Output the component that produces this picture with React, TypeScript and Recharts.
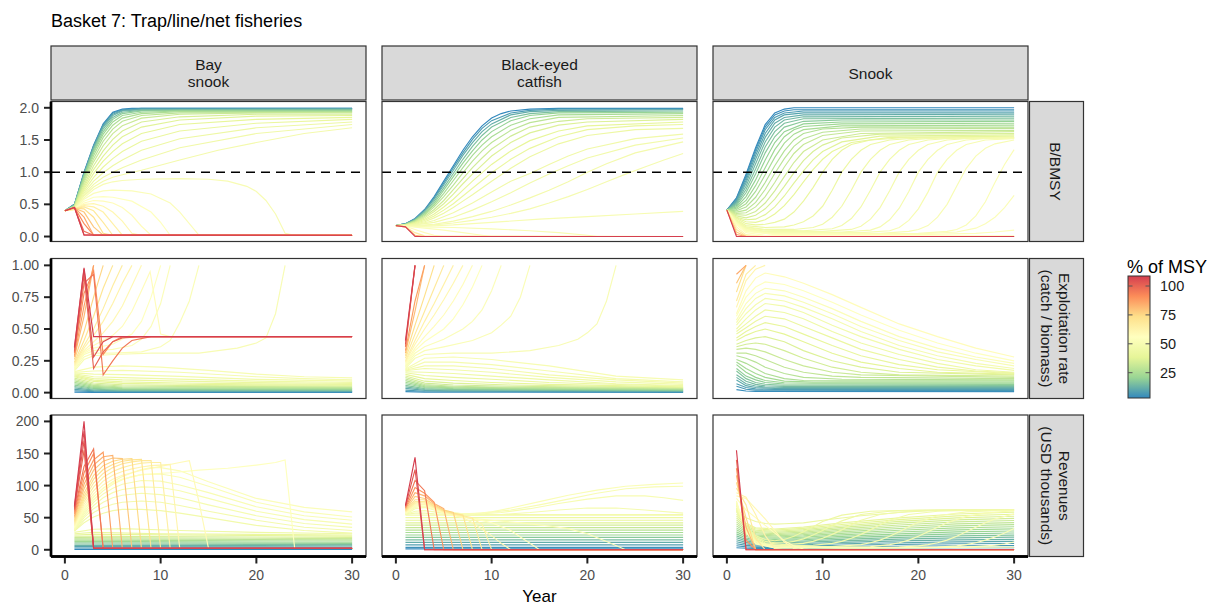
import React from 'react';
import { LineChart, Line, XAxis, YAxis, ReferenceLine } from 'recharts';

type P = [number, number];
type S = { m: number; p: P[] };

const FONT = "'Liberation Sans', Arial, Helvetica, sans-serif";
const title = 'Basket 7: Trap/line/net fisheries';
const speciesLabels = [['Bay', 'snook'], ['Black-eyed', 'catfish'], ['Snook']];
const rowLabels = [['B/BMSY'], ['Exploitation rate', '(catch / biomass)'], ['Revenues', '(USD thousands)']];
const xTitle = 'Year';
const legendTitle = '% of MSY';
const yearTicks = [0, 10, 20, 30];
const bTicks = [0, 0.5, 1, 1.5, 2];
const eTicks = [0, 0.25, 0.5, 0.75, 1];
const rTicks = [0, 50, 100, 150, 200];
const legendTicks = [25, 50, 75, 100];
const bmsyRef = 1;

// ---------- Row 1: B/BMSY ----------
const bayB: S[] = [
  { m: 1, p: [[0,.4],[1,.5],[2,1.0],[3,1.42],[4,1.75],[5,1.93],[6,1.98],[7,1.99],[30,1.99]] },
  { m: 4, p: [[0,.4],[1,.5],[2,.99],[3,1.41],[4,1.74],[5,1.92],[6,1.97],[8,1.99],[30,1.99]] },
  { m: 7, p: [[0,.4],[1,.5],[2,.98],[3,1.4],[4,1.72],[5,1.9],[6,1.96],[8,1.98],[30,1.98]] },
  { m: 10, p: [[0,.4],[1,.49],[2,.97],[3,1.38],[4,1.7],[5,1.88],[6,1.95],[8,1.97],[30,1.98]] },
  { m: 13, p: [[0,.4],[1,.49],[2,.96],[3,1.36],[4,1.67],[5,1.85],[6,1.93],[8,1.96],[30,1.97]] },
  { m: 16, p: [[0,.4],[1,.48],[2,.94],[3,1.33],[4,1.63],[5,1.82],[6,1.91],[8,1.95],[12,1.96],[30,1.96]] },
  { m: 19, p: [[0,.4],[1,.48],[2,.92],[3,1.3],[4,1.59],[5,1.78],[6,1.88],[8,1.93],[12,1.95],[30,1.95]] },
  { m: 22, p: [[0,.4],[1,.47],[2,.9],[3,1.26],[4,1.54],[5,1.73],[6,1.84],[8,1.91],[12,1.94],[30,1.94]] },
  { m: 25, p: [[0,.4],[1,.47],[2,.87],[3,1.21],[4,1.48],[5,1.67],[6,1.79],[8,1.88],[12,1.92],[30,1.93]] },
  { m: 28, p: [[0,.4],[1,.46],[2,.84],[3,1.16],[4,1.41],[5,1.6],[6,1.72],[8,1.84],[12,1.9],[20,1.92],[30,1.92]] },
  { m: 31, p: [[0,.4],[1,.46],[2,.8],[3,1.1],[4,1.33],[5,1.51],[6,1.64],[8,1.78],[12,1.86],[20,1.9],[30,1.9]] },
  { m: 33, p: [[0,.4],[1,.45],[2,.77],[3,1.04],[4,1.25],[5,1.42],[6,1.55],[8,1.7],[12,1.81],[20,1.87],[30,1.88]] },
  { m: 35, p: [[0,.4],[1,.45],[2,.74],[3,.98],[4,1.17],[5,1.32],[6,1.44],[8,1.6],[12,1.74],[20,1.82],[30,1.85]] },
  { m: 37, p: [[0,.4],[1,.44],[2,.71],[3,.92],[4,1.08],[5,1.21],[6,1.32],[8,1.48],[12,1.64],[20,1.76],[30,1.82]] },
  { m: 39, p: [[0,.4],[1,.44],[2,.68],[3,.86],[4,.99],[5,1.1],[6,1.19],[8,1.34],[12,1.52],[20,1.69],[30,1.78]] },
  { m: 41, p: [[0,.4],[1,.43],[2,.65],[3,.81],[4,.92],[5,1.0],[6,1.07],[8,1.19],[12,1.38],[20,1.6],[30,1.74]] },
  { m: 43, p: [[0,.4],[1,.43],[2,.63],[3,.77],[4,.86],[5,.92],[6,.96],[8,1.03],[12,1.19],[16,1.34],[20,1.46],[25,1.6],[30,1.69]] },
  { m: 46, p: [[0,.4],[1,.42],[2,.6],[3,.73],[4,.81],[5,.85],[6,.87],[8,.89],[12,.9],[15,.89],[17,.86],[19,.78],[20,.7],[21,.56],[22,.35],[23,.05],[24,.02],[30,.02]] },
  { m: 48, p: [[0,.4],[1,.42],[2,.58],[3,.67],[4,.71],[5,.72],[7,.71],[9,.66],[11,.52],[12,.38],[13,.2],[14,.02],[30,.02]] },
  { m: 50, p: [[0,.4],[1,.42],[2,.55],[3,.61],[4,.62],[5,.61],[7,.55],[9,.38],[10,.22],[11,.02],[30,.02]] },
  { m: 52, p: [[0,.4],[1,.42],[2,.52],[3,.56],[4,.55],[5,.52],[6,.45],[7,.33],[8,.16],[9,.02],[30,.02]] },
  { m: 55, p: [[0,.4],[1,.42],[2,.5],[3,.51],[4,.47],[5,.38],[6,.24],[7,.05],[8,.02],[30,.02]] },
  { m: 58, p: [[0,.4],[1,.43],[2,.48],[3,.46],[4,.38],[5,.2],[6,.02],[30,.02]] },
  { m: 62, p: [[0,.4],[1,.43],[2,.46],[3,.4],[4,.22],[5,.02],[30,.02]] },
  { m: 67, p: [[0,.4],[1,.44],[2,.43],[3,.3],[4,.05],[5,.02],[30,.02]] },
  { m: 72, p: [[0,.4],[1,.44],[2,.38],[3,.15],[4,.02],[30,.02]] },
  { m: 78, p: [[0,.4],[1,.45],[2,.3],[3,.02],[30,.02]] },
  { m: 84, p: [[0,.4],[1,.45],[2,.2],[3,.02],[30,.02]] },
  { m: 90, p: [[0,.4],[1,.45],[2,.08],[3,.02],[30,.02]] },
  { m: 95, p: [[0,.4],[1,.45],[2,.03],[30,.02]] },
  { m: 100, p: [[0,.4],[1,.45],[2,.02],[30,.02]] },
];

const catB: S[] = [
  { m: 1, p: [[0,.17],[1,.2],[2,.28],[3,.42],[4,.62],[5,.86],[6,1.1],[7,1.34],[8,1.55],[9,1.72],[10,1.84],[11,1.91],[12,1.95],[14,1.98],[17,1.99],[30,1.99]] },
  { m: 5, p: [[0,.17],[1,.2],[2,.27],[3,.41],[4,.6],[5,.83],[6,1.07],[7,1.3],[8,1.51],[9,1.68],[10,1.8],[12,1.92],[14,1.96],[17,1.98],[30,1.98]] },
  { m: 9, p: [[0,.17],[1,.2],[2,.27],[3,.4],[4,.58],[5,.8],[6,1.03],[7,1.26],[8,1.46],[9,1.63],[10,1.75],[12,1.89],[14,1.94],[17,1.96],[30,1.97]] },
  { m: 13, p: [[0,.17],[1,.19],[2,.26],[3,.38],[4,.55],[5,.76],[6,.98],[7,1.2],[8,1.4],[9,1.57],[10,1.7],[12,1.85],[14,1.91],[17,1.94],[30,1.95]] },
  { m: 17, p: [[0,.17],[1,.19],[2,.25],[3,.36],[4,.52],[5,.72],[6,.93],[7,1.14],[8,1.33],[9,1.5],[10,1.63],[12,1.8],[14,1.88],[17,1.92],[30,1.93]] },
  { m: 21, p: [[0,.17],[1,.19],[2,.25],[3,.35],[4,.49],[5,.67],[6,.87],[7,1.07],[8,1.26],[9,1.42],[10,1.55],[12,1.73],[14,1.83],[17,1.89],[30,1.91]] },
  { m: 25, p: [[0,.17],[1,.18],[2,.24],[3,.33],[4,.46],[5,.62],[6,.8],[7,.99],[8,1.17],[9,1.33],[10,1.46],[12,1.65],[14,1.77],[17,1.85],[30,1.88]] },
  { m: 29, p: [[0,.17],[1,.18],[2,.23],[3,.31],[4,.42],[5,.56],[6,.73],[7,.9],[8,1.07],[9,1.22],[10,1.36],[12,1.56],[14,1.7],[17,1.79],[20,1.83],[30,1.85]] },
  { m: 32, p: [[0,.17],[1,.18],[2,.22],[3,.29],[4,.39],[5,.51],[6,.66],[7,.82],[8,.97],[9,1.11],[10,1.25],[12,1.46],[14,1.61],[17,1.73],[20,1.78],[30,1.82]] },
  { m: 35, p: [[0,.17],[1,.18],[2,.21],[3,.27],[4,.35],[5,.46],[6,.58],[7,.72],[8,.86],[10,1.12],[12,1.33],[14,1.49],[17,1.64],[20,1.72],[30,1.78]] },
  { m: 37, p: [[0,.17],[1,.17],[2,.2],[3,.25],[4,.32],[5,.41],[6,.51],[7,.63],[8,.75],[10,.99],[12,1.2],[14,1.37],[17,1.55],[20,1.66],[25,1.72],[30,1.74]] },
  { m: 39, p: [[0,.17],[1,.17],[2,.19],[3,.23],[4,.29],[5,.36],[6,.45],[7,.55],[8,.65],[10,.86],[12,1.06],[14,1.24],[17,1.44],[20,1.57],[25,1.66],[30,1.68]] },
  { m: 41, p: [[0,.17],[1,.17],[2,.18],[4,.25],[6,.37],[8,.52],[10,.69],[12,.86],[14,.98],[16,1.12],[18,1.25],[20,1.36],[25,1.52],[30,1.59]] },
  { m: 42, p: [[0,.17],[1,.17],[2,.18],[4,.22],[6,.3],[8,.41],[10,.54],[12,.68],[14,.83],[16,.97],[18,1.1],[20,1.22],[25,1.42],[30,1.53]] },
  { m: 43, p: [[0,.17],[1,.16],[2,.17],[4,.19],[6,.24],[8,.31],[10,.39],[12,.49],[14,.6],[16,.72],[18,.85],[20,1.0],[22,1.13],[25,1.3],[30,1.47]] },
  { m: 44, p: [[0,.17],[1,.16],[2,.16],[4,.18],[6,.21],[8,.25],[10,.3],[12,.36],[14,.43],[16,.52],[18,.62],[20,.73],[22,.85],[24,.97],[26,1.08],[28,1.19],[30,1.29]] },
  { m: 45, p: [[0,.17],[1,.16],[3,.16],[6,.18],[10,.22],[15,.27],[20,.31],[25,.35],[30,.39]] },
  { m: 46, p: [[0,.17],[1,.16],[3,.15],[6,.14],[10,.12],[14,.09],[17,.06],[20,.02],[21,0],[30,0]] },
  { m: 48, p: [[0,.17],[1,.16],[3,.13],[5,.1],[7,.06],[9,.02],[10,0],[30,0]] },
  { m: 52, p: [[0,.17],[1,.16],[2,.11],[3,.06],[4,.02],[5,0],[30,0]] },
  { m: 60, p: [[0,.17],[1,.15],[2,.06],[3,.01],[30,0]] },
  { m: 75, p: [[0,.17],[1,.15],[2,.02],[3,0],[30,0]] },
  { m: 100, p: [[0,.17],[1,.15],[2,0],[30,0]] },
];

const snookB: S[] = [
  { m: 1, p: [[0,.41],[1,.6],[2,.97],[3,1.38],[4,1.74],[5,1.92],[6,1.98],[7,2.0],[30,2.0]] },
  { m: 3, p: [[0,.41],[1,.59],[2,.94],[3,1.35],[4,1.7],[5,1.89],[6,1.95],[7,1.97],[30,1.97]] },
  { m: 5, p: [[0,.41],[1,.57],[2,.91],[3,1.31],[4,1.66],[5,1.85],[6,1.92],[8,1.95],[30,1.95]] },
  { m: 7, p: [[0,.41],[1,.56],[2,.87],[3,1.26],[4,1.6],[5,1.81],[6,1.89],[8,1.92],[30,1.92]] },
  { m: 9, p: [[0,.41],[1,.54],[2,.83],[3,1.2],[4,1.54],[5,1.76],[6,1.85],[8,1.89],[30,1.9]] },
  { m: 11, p: [[0,.41],[1,.52],[2,.78],[3,1.13],[4,1.47],[5,1.7],[6,1.81],[8,1.86],[30,1.87]] },
  { m: 13, p: [[0,.41],[1,.5],[2,.73],[3,1.05],[4,1.39],[5,1.63],[6,1.76],[8,1.83],[30,1.84]] },
  { m: 15, p: [[0,.41],[1,.48],[2,.68],[3,.97],[4,1.3],[5,1.55],[6,1.7],[8,1.79],[12,1.81],[30,1.81]] },
  { m: 17, p: [[0,.41],[1,.46],[2,.62],[3,.88],[4,1.19],[5,1.46],[6,1.63],[8,1.75],[12,1.78],[30,1.79]] },
  { m: 19, p: [[0,.41],[1,.44],[2,.56],[3,.79],[4,1.07],[5,1.35],[6,1.55],[7,1.66],[8,1.71],[12,1.75],[30,1.76]] },
  { m: 21, p: [[0,.41],[1,.42],[2,.51],[3,.7],[4,.96],[5,1.23],[6,1.45],[7,1.59],[8,1.66],[12,1.72],[30,1.73]] },
  { m: 23, p: [[0,.41],[1,.4],[2,.46],[3,.61],[4,.84],[5,1.1],[6,1.33],[7,1.5],[8,1.6],[10,1.67],[14,1.7],[30,1.7]] },
  { m: 25, p: [[0,.41],[1,.38],[2,.41],[3,.53],[4,.73],[5,.98],[6,1.21],[7,1.4],[8,1.52],[10,1.62],[14,1.67],[30,1.68]] },
  { m: 27, p: [[0,.41],[1,.36],[2,.37],[3,.46],[4,.62],[5,.84],[6,1.08],[7,1.29],[8,1.43],[10,1.57],[14,1.64],[30,1.65]] },
  { m: 29, p: [[0,.41],[1,.34],[2,.33],[3,.39],[4,.52],[5,.71],[6,.93],[7,1.15],[8,1.32],[10,1.5],[14,1.6],[30,1.63]] },
  { m: 31, p: [[0,.41],[1,.32],[2,.29],[3,.33],[4,.43],[5,.58],[6,.78],[7,.99],[8,1.18],[9,1.32],[10,1.42],[12,1.53],[16,1.59],[30,1.6]] },
  { m: 33, p: [[0,.41],[1,.3],[2,.26],[3,.27],[4,.34],[5,.46],[6,.63],[7,.83],[8,1.02],[9,1.19],[10,1.32],[12,1.47],[16,1.56],[30,1.58]] },
  { m: 35, p: [[0,.41],[1,.29],[2,.23],[3,.22],[4,.26],[5,.35],[6,.48],[7,.65],[8,.85],[9,1.04],[10,1.2],[11,1.32],[13,1.46],[17,1.54],[30,1.56]] },
  { m: 37, p: [[0,.41],[1,.28],[2,.2],[3,.18],[4,.19],[5,.22],[6,.27],[7,.38],[8,.55],[9,.76],[10,1.0],[11,1.2],[12,1.34],[13,1.43],[15,1.5],[18,1.53],[30,1.54]] },
  { m: 39, p: [[0,.41],[1,.26],[2,.17],[4,.14],[6,.15],[7,.18],[8,.23],[9,.32],[10,.47],[11,.72],[12,1.0],[13,1.2],[14,1.34],[15,1.43],[17,1.5],[20,1.53],[30,1.53]] },
  { m: 41, p: [[0,.41],[1,.25],[2,.15],[4,.11],[7,.11],[9,.14],[10,.19],[11,.3],[12,.47],[13,.72],[14,1.0],[15,1.2],[16,1.34],[17,1.43],[19,1.5],[22,1.53],[30,1.53]] },
  { m: 42, p: [[0,.41],[1,.24],[2,.14],[4,.1],[8,.09],[11,.12],[12,.17],[13,.28],[14,.46],[15,.72],[16,1.0],[17,1.2],[18,1.34],[19,1.43],[21,1.5],[24,1.53],[30,1.53]] },
  { m: 43, p: [[0,.41],[1,.23],[2,.13],[4,.08],[10,.08],[13,.11],[14,.16],[15,.27],[16,.45],[17,.71],[18,1.0],[19,1.2],[20,1.34],[21,1.43],[23,1.5],[26,1.53],[30,1.53]] },
  { m: 44, p: [[0,.41],[1,.22],[2,.12],[4,.07],[12,.07],[15,.1],[16,.15],[17,.26],[18,.44],[19,.7],[20,1.0],[21,1.2],[22,1.34],[23,1.43],[25,1.5],[28,1.53],[30,1.53]] },
  { m: 45, p: [[0,.41],[1,.22],[2,.11],[4,.06],[14,.06],[17,.09],[18,.14],[19,.25],[20,.43],[21,.69],[22,1.0],[23,1.2],[24,1.34],[25,1.43],[27,1.5],[30,1.52]] },
  { m: 46, p: [[0,.41],[1,.21],[2,.1],[5,.05],[16,.05],[19,.08],[20,.11],[21,.17],[22,.3],[23,.5],[24,.78],[25,1.06],[26,1.25],[27,1.37],[28,1.44],[30,1.5]] },
  { m: 47, p: [[0,.41],[1,.21],[2,.1],[5,.04],[20,.05],[23,.08],[24,.11],[25,.18],[26,.32],[27,.54],[28,.84],[29,1.12],[30,1.35]] },
  { m: 48, p: [[0,.41],[1,.2],[2,.09],[5,.04],[20,.04],[24,.07],[26,.13],[27,.2],[28,.3],[29,.45],[30,.64]] },
  { m: 49, p: [[0,.41],[1,.2],[2,.08],[5,.03],[20,.03],[26,.05],[28,.07],[30,.1]] },
  { m: 51, p: [[0,.41],[1,.18],[2,.06],[4,.02],[10,.01],[30,.01]] },
  { m: 55, p: [[0,.41],[1,.15],[2,.03],[4,0],[30,0]] },
  { m: 62, p: [[0,.41],[1,.11],[2,.01],[3,0],[30,0]] },
  { m: 70, p: [[0,.41],[1,.07],[2,0],[30,0]] },
  { m: 80, p: [[0,.41],[1,.03],[2,0],[30,0]] },
  { m: 100, p: [[0,.41],[1,0],[30,0]] },
];

// ---------- Row 2: exploitation rate ----------
const bayE: S[] = [
  { m: 1, p: [[1,.004],[3,.002],[30,.002]] },
  { m: 4, p: [[1,.015],[3,.008],[6,.006],[30,.006]] },
  { m: 7, p: [[1,.026],[3,.014],[6,.01],[30,.01]] },
  { m: 10, p: [[1,.037],[3,.02],[6,.015],[30,.014]] },
  { m: 13, p: [[1,.048],[3,.027],[6,.02],[30,.019]] },
  { m: 16, p: [[1,.059],[3,.034],[6,.025],[30,.024]] },
  { m: 19, p: [[1,.07],[3,.041],[6,.031],[30,.029]] },
  { m: 22, p: [[1,.081],[3,.049],[6,.037],[30,.034]] },
  { m: 25, p: [[1,.092],[3,.057],[6,.044],[30,.04]] },
  { m: 28, p: [[1,.103],[3,.066],[6,.052],[12,.048],[30,.046]] },
  { m: 31, p: [[1,.114],[3,.076],[6,.061],[12,.056],[30,.052]] },
  { m: 34, p: [[1,.125],[3,.088],[6,.073],[12,.066],[20,.061],[30,.058]] },
  { m: 36, p: [[1,.132],[3,.098],[6,.085],[12,.076],[20,.069],[30,.064]] },
  { m: 38, p: [[1,.14],[3,.11],[6,.1],[12,.09],[20,.079],[30,.072]] },
  { m: 40, p: [[1,.147],[3,.125],[6,.118],[12,.106],[20,.09],[30,.08]] },
  { m: 42, p: [[1,.155],[3,.145],[6,.142],[12,.128],[20,.104],[30,.09]] },
  { m: 44, p: [[1,.16],[3,.17],[6,.175],[12,.16],[20,.125],[25,.11],[30,.1]] },
  { m: 45, p: [[1,.165],[3,.2],[6,.21],[10,.2],[15,.175],[20,.145],[25,.125],[30,.116]] },
  { m: 46, p: [[1,.17],[2,.26],[3,.29],[5,.3],[9,.31],[14,.31],[18,.35],[20,.39],[21,.43],[22,.62],[23,1.0]] },
  { m: 47, p: [[1,.18],[2,.28],[3,.31],[5,.31],[8,.32],[10,.36],[11,.41],[12,.55],[13,.72],[14,1.0]] },
  { m: 48, p: [[1,.19],[2,.3],[3,.33],[5,.34],[7,.37],[8,.42],[9,.52],[10,.7],[11,1.0]] },
  { m: 50, p: [[1,.19],[2,.31],[3,.35],[5,.38],[7,.46],[8,.56],[9,.75],[10,1.0]] },
  { m: 52, p: [[1,.2],[2,.32],[3,.37],[5,.45],[6,.52],[7,.64],[8,.8],[8.9,.95],[10,.46],[11,.44],[30,.44]] },
  { m: 54, p: [[1,.21],[2,.33],[3,.4],[4,.47],[5,.56],[6,.68],[7,.84],[8,1.0]] },
  { m: 57, p: [[1,.22],[2,.35],[3,.45],[4,.56],[5,.7],[6,.86],[7,1.0]] },
  { m: 60, p: [[1,.23],[2,.37],[3,.5],[4,.66],[5,.84],[6,1.0]] },
  { m: 64, p: [[1,.24],[2,.41],[3,.6],[4,.82],[5,1.0]] },
  { m: 69, p: [[1,.26],[2,.48],[3,.75],[4,1.0]] },
  { m: 75, p: [[1,.28],[2,.6],[3,1.0]] },
  { m: 80, p: [[1,.29],[2,.68],[3,1.0]] },
  { m: 84, p: [[1,.31],[2,.78],[3,.96],[4,.3],[5,.4],[6,.44],[30,.44]] },
  { m: 88, p: [[1,.32],[2,.86],[3,.93],[4,.14],[5,.25],[6,.35],[7,.41],[9,.44],[30,.44]] },
  { m: 92, p: [[1,.33],[2,.92],[3,.19],[4,.32],[5,.4],[6,.43],[8,.44],[30,.44]] },
  { m: 96, p: [[1,.35],[2,.97],[3,.28],[4,.4],[5,.44],[30,.44]] },
  { m: 100, p: [[1,.36],[2,.98],[3,.44],[30,.44]] },
];

const catE: S[] = [
  { m: 2, p: [[1,.008],[3,.004],[30,.002]] },
  { m: 5, p: [[1,.02],[3,.011],[30,.006]] },
  { m: 8, p: [[1,.033],[3,.018],[6,.014],[30,.01]] },
  { m: 11, p: [[1,.045],[3,.025],[6,.02],[30,.014]] },
  { m: 14, p: [[1,.057],[3,.032],[6,.025],[30,.018]] },
  { m: 17, p: [[1,.07],[3,.04],[6,.031],[12,.027],[30,.022]] },
  { m: 20, p: [[1,.082],[3,.047],[6,.037],[12,.032],[30,.026]] },
  { m: 23, p: [[1,.094],[3,.055],[6,.043],[12,.037],[30,.03]] },
  { m: 26, p: [[1,.107],[3,.064],[6,.05],[12,.042],[30,.033]] },
  { m: 29, p: [[1,.119],[3,.075],[6,.06],[12,.05],[30,.037]] },
  { m: 32, p: [[1,.131],[3,.09],[6,.075],[12,.06],[30,.04]] },
  { m: 35, p: [[1,.143],[3,.11],[6,.095],[10,.08],[16,.065],[30,.045]] },
  { m: 38, p: [[1,.156],[3,.135],[6,.12],[10,.105],[16,.08],[30,.05]] },
  { m: 40, p: [[1,.164],[3,.16],[6,.15],[10,.13],[16,.1],[23,.07],[30,.055]] },
  { m: 42, p: [[1,.172],[3,.19],[6,.18],[10,.16],[16,.12],[23,.085],[30,.065]] },
  { m: 43, p: [[1,.176],[3,.21],[6,.21],[10,.19],[16,.14],[23,.1],[30,.075]] },
  { m: 44, p: [[1,.18],[3,.24],[6,.24],[10,.22],[16,.17],[23,.11],[30,.085]] },
  { m: 45, p: [[1,.185],[3,.27],[6,.28],[10,.26],[16,.21],[23,.13],[30,.1]] },
  { m: 46, p: [[1,.19],[2,.27],[3,.3],[6,.31],[10,.31],[14,.33],[17,.37],[19,.42],[20,.47],[21,.54],[22,.72],[23,1.0]] },
  { m: 47, p: [[1,.2],[2,.29],[3,.33],[5,.36],[8,.41],[10,.47],[11,.53],[12,.6],[13,.75],[14,1.0]] },
  { m: 48, p: [[1,.21],[2,.31],[3,.36],[5,.42],[7,.5],[8,.56],[9,.65],[10,.8],[11,1.0]] },
  { m: 50, p: [[1,.22],[2,.33],[3,.4],[5,.5],[6,.58],[7,.69],[8,.83],[9,1.0]] },
  { m: 52, p: [[1,.23],[2,.35],[3,.44],[4,.52],[5,.61],[6,.72],[7,.85],[8,1.0]] },
  { m: 55, p: [[1,.24],[2,.38],[3,.5],[4,.61],[5,.73],[6,.86],[7,1.0]] },
  { m: 58, p: [[1,.25],[2,.41],[3,.56],[4,.7],[5,.85],[6,1.0]] },
  { m: 62, p: [[1,.27],[2,.46],[3,.64],[4,.82],[5,1.0]] },
  { m: 67, p: [[1,.29],[2,.53],[3,.76],[4,1.0]] },
  { m: 74, p: [[1,.31],[2,.64],[3,1.0]] },
  { m: 80, p: [[1,.33],[2,.72],[3,1.0]] },
  { m: 88, p: [[1,.36],[2,1.0]] },
  { m: 94, p: [[1,.38],[2,1.0]] },
  { m: 100, p: [[1,.41],[2,1.0]] },
];

const snookE: S[] = [
  { m: 2, p: [[1,.024],[2,.013],[3,.01],[30,.008]] },
  { m: 4, p: [[1,.05],[2,.027],[3,.02],[30,.016]] },
  { m: 6, p: [[1,.07],[2,.04],[3,.03],[5,.025],[30,.024]] },
  { m: 8, p: [[1,.1],[2,.055],[3,.04],[5,.033],[30,.032]] },
  { m: 10, p: [[1,.12],[2,.07],[3,.052],[4,.044],[6,.041],[30,.04]] },
  { m: 12, p: [[1,.14],[2,.09],[3,.065],[4,.054],[6,.049],[30,.048]] },
  { m: 14, p: [[1,.17],[2,.11],[3,.08],[4,.066],[6,.058],[30,.057]] },
  { m: 16, p: [[1,.19],[2,.13],[3,.1],[4,.08],[6,.068],[30,.065]] },
  { m: 18, p: [[1,.22],[2,.16],[3,.12],[4,.095],[6,.078],[9,.074],[30,.074]] },
  { m: 20, p: [[1,.24],[2,.19],[3,.15],[4,.12],[6,.09],[9,.083],[30,.083]] },
  { m: 22, p: [[1,.26],[2,.23],[3,.19],[4,.15],[6,.11],[8,.095],[12,.092],[30,.092]] },
  { m: 24, p: [[1,.29],[2,.27],[3,.24],[4,.2],[6,.15],[8,.12],[12,.105],[30,.1]] },
  { m: 26, p: [[1,.31],[2,.31],[3,.29],[4,.26],[6,.2],[8,.16],[11,.13],[14,.12],[30,.11]] },
  { m: 28, p: [[1,.34],[2,.35],[3,.34],[4,.32],[6,.26],[8,.21],[11,.16],[14,.14],[30,.12]] },
  { m: 30, p: [[1,.36],[2,.38],[3,.39],[4,.38],[6,.33],[8,.27],[11,.2],[14,.16],[18,.14],[30,.13]] },
  { m: 32, p: [[1,.38],[2,.41],[3,.43],[4,.44],[6,.4],[8,.33],[11,.25],[14,.2],[18,.16],[30,.14]] },
  { m: 34, p: [[1,.41],[2,.45],[3,.48],[4,.5],[6,.46],[8,.4],[11,.31],[14,.24],[18,.19],[22,.16],[30,.145]] },
  { m: 36, p: [[1,.43],[2,.48],[3,.52],[4,.55],[6,.52],[8,.46],[11,.37],[14,.29],[18,.22],[22,.18],[30,.15]] },
  { m: 38, p: [[1,.46],[2,.51],[3,.56],[4,.6],[6,.58],[8,.52],[11,.43],[14,.34],[18,.26],[22,.2],[26,.17],[30,.155]] },
  { m: 40, p: [[1,.48],[2,.54],[3,.6],[4,.65],[6,.63],[8,.58],[11,.48],[14,.39],[18,.3],[22,.23],[26,.18],[30,.16]] },
  { m: 42, p: [[1,.5],[2,.58],[3,.65],[4,.7],[6,.68],[8,.63],[11,.53],[14,.44],[18,.34],[22,.26],[26,.21],[30,.175]] },
  { m: 44, p: [[1,.53],[2,.62],[3,.69],[4,.74],[6,.72],[8,.67],[11,.58],[14,.48],[18,.37],[22,.29],[26,.23],[30,.19]] },
  { m: 46, p: [[1,.55],[2,.66],[3,.74],[4,.78],[6,.76],[8,.71],[11,.62],[14,.52],[18,.41],[22,.32],[26,.26],[30,.21]] },
  { m: 48, p: [[1,.57],[2,.7],[3,.78],[4,.82],[6,.8],[8,.75],[11,.66],[14,.56],[18,.44],[22,.35],[26,.28],[30,.23]] },
  { m: 50, p: [[1,.6],[2,.75],[3,.83],[4,.87],[6,.85],[8,.8],[11,.71],[14,.61],[18,.49],[22,.39],[26,.31],[30,.25]] },
  { m: 52, p: [[1,.62],[2,.8],[3,.9],[4,.94],[6,.91],[8,.86],[11,.77],[14,.67],[18,.54],[22,.44],[26,.35],[30,.28]] },
  { m: 56, p: [[1,.67],[2,.88],[3,.97],[4,1.0]] },
  { m: 60, p: [[1,.72],[2,.93],[3,1.0]] },
  { m: 66, p: [[1,.79],[2,1.0]] },
  { m: 72, p: [[1,.86],[2,1.0]] },
  { m: 78, p: [[1,.93],[2,1.0]] },
];

// ---------- Row 3: revenues ----------
const bayR: S[] = [
  { m: 1, p: [[1,.7],[30,.6]] },
  { m: 4, p: [[1,2.8],[30,2.5]] },
  { m: 7, p: [[1,4.8],[30,4.3]] },
  { m: 10, p: [[1,6.9],[30,6.2]] },
  { m: 13, p: [[1,9],[30,8]] },
  { m: 16, p: [[1,11],[30,9.9]] },
  { m: 19, p: [[1,13],[30,11.7]] },
  { m: 22, p: [[1,15],[30,13.6]] },
  { m: 25, p: [[1,17],[30,15.5]] },
  { m: 28, p: [[1,19],[30,17.4]] },
  { m: 31, p: [[1,21],[30,19.3]] },
  { m: 34, p: [[1,23],[3,24],[30,21.2]] },
  { m: 37, p: [[1,25],[3,27],[10,25],[30,23]] },
  { m: 40, p: [[1,27],[3,32],[6,33],[12,30],[20,27],[30,25]] },
  { m: 42, p: [[1,29],[2,42],[3,51],[4,57],[5,61],[6,63],[8,63],[10,61],[12,57],[15,50],[20,38],[25,30],[30,26]] },
  { m: 43, p: [[1,29],[2,46],[3,58],[4,66],[5,71],[6,74],[8,76],[10,74],[12,69],[15,60],[20,46],[25,35],[30,30]] },
  { m: 44, p: [[1,30],[2,50],[3,64],[4,74],[5,81],[6,85],[8,88],[10,86],[12,81],[15,70],[20,53],[25,41],[30,35]] },
  { m: 45, p: [[1,31],[2,53],[3,69],[4,81],[5,89],[6,94],[8,98],[10,97],[12,92],[15,80],[20,60],[25,47],[30,40]] },
  { m: 46, p: [[1,31],[2,56],[3,74],[4,87],[5,96],[6,102],[8,108],[10,107],[12,101],[15,89],[20,67],[25,53],[30,46]] },
  { m: 47, p: [[1,32],[2,59],[3,78],[4,92],[5,102],[6,109],[7,114],[8,117],[10,118],[12,113],[15,99],[20,74],[25,59],[30,51]] },
  { m: 48, p: [[1,33],[2,62],[3,82],[4,96],[5,106],[6,114],[7,120],[8,125],[9,128],[10,128],[12,123],[15,106],[20,80],[25,66],[30,59]] },
  { m: 50, p: [[1,35],[2,64],[3,83],[4,96],[5,104],[6,110],[8,117],[11,120],[14,124],[17,127],[20,132],[22,136],[23,140],[24,2],[30,2]] },
  { m: 53, p: [[1,37],[2,67],[3,87],[4,101],[5,110],[6,116],[8,124],[10,130],[12,136],[13,139],[14,75],[15,2],[30,2]] },
  { m: 56, p: [[1,39],[2,71],[3,92],[4,107],[5,116],[6,122],[7,126],[8,129],[9,131],[10,132],[11,133],[12,2],[30,2]] },
  { m: 59, p: [[1,41],[2,75],[3,98],[4,113],[5,122],[6,128],[7,132],[8,135],[9,136],[10,136],[11,2],[30,2]] },
  { m: 62, p: [[1,43],[2,79],[3,104],[4,119],[5,128],[6,134],[7,137],[8,139],[9,139],[10,2],[30,2]] },
  { m: 65, p: [[1,45],[2,83],[3,110],[4,125],[5,133],[6,138],[7,140],[8,141],[9,2],[30,2]] },
  { m: 68, p: [[1,47],[2,88],[3,116],[4,131],[5,138],[6,141],[7,142],[8,2],[30,2]] },
  { m: 72, p: [[1,50],[2,95],[3,124],[4,138],[5,143],[6,142],[7,2],[30,2]] },
  { m: 76, p: [[1,52],[2,102],[3,132],[4,145],[5,147],[6,2],[30,2]] },
  { m: 80, p: [[1,55],[2,110],[3,140],[4,152],[5,2],[30,2]] },
  { m: 84, p: [[1,58],[2,120],[3,150],[4,2],[30,2]] },
  { m: 88, p: [[1,61],[2,130],[3,157],[4,2],[30,2]] },
  { m: 91, p: [[1,63],[2,155],[3,2],[30,2]] },
  { m: 94, p: [[1,65],[2,170],[3,2],[30,2]] },
  { m: 97, p: [[1,67],[2,185],[3,2],[30,2]] },
  { m: 100, p: [[1,69],[2,200],[3,3],[30,3]] },
];

const catR: S[] = [
  { m: 1, p: [[1,1.3],[30,1.3]] },
  { m: 3, p: [[1,3.8],[30,3.8]] },
  { m: 6, p: [[1,7.7],[30,7.7]] },
  { m: 9, p: [[1,11.5],[30,11.5]] },
  { m: 12, p: [[1,15.4],[30,15.4]] },
  { m: 15, p: [[1,19.2],[30,19.2]] },
  { m: 18, p: [[1,23],[30,23]] },
  { m: 21, p: [[1,26.9],[30,26.9]] },
  { m: 24, p: [[1,30.7],[30,30.7]] },
  { m: 27, p: [[1,34.6],[30,34.6]] },
  { m: 30, p: [[1,38.4],[30,38.4]] },
  { m: 33, p: [[1,42],[30,42]] },
  { m: 36, p: [[1,46],[30,46]] },
  { m: 39, p: [[1,50],[30,50]] },
  { m: 42, p: [[1,54],[30,54]] },
  { m: 43, p: [[1,55],[2,57],[3,57],[4,56],[6,55],[10,55],[20,55],[30,55]] },
  { m: 44, p: [[1,55],[2,60],[3,61],[4,59],[5,57],[6,55],[8,54],[11,55],[14,58],[17,62],[20,65],[23,65],[26,62],[30,57]] },
  { m: 45, p: [[1,55],[2,64],[3,66],[4,62],[5,58],[6,56],[8,55],[11,58],[14,64],[17,72],[20,79],[23,84],[26,84],[28,81],[30,77]] },
  { m: 46, p: [[1,55.5],[2,68],[3,71],[4,65],[5,60],[6,57],[7,56],[9,57],[12,62],[15,70],[18,79],[21,88],[24,95],[27,98],[30,99]] },
  { m: 47, p: [[1,56],[2,72],[3,76],[4,69],[5,62],[6,58],[7,56],[8,56],[10,59],[12,65],[15,75],[18,85],[21,93],[24,99],[27,102],[30,104]] },
  { m: 48, p: [[1,56.5],[2,66],[3,68],[4,63],[5,57],[6,53],[8,49],[10,46],[13,42],[16,37],[18,33],[20,25],[22,13],[24,0],[30,0]] },
  { m: 51, p: [[1,57],[2,69],[3,70],[4,64],[5,58],[6,54],[8,49],[10,42],[12,30],[13,20],[14,10],[15,0],[30,0]] },
  { m: 54, p: [[1,58],[2,71],[3,71],[4,65],[5,58],[6,54],[7,50],[8,42],[9,32],[10,22],[11,10],[12,0],[30,0]] },
  { m: 57, p: [[1,59],[2,73],[3,73],[4,66],[5,59],[6,55],[7,52],[8,48],[9,40],[10,0],[30,0]] },
  { m: 61, p: [[1,60],[2,75],[3,75],[4,67],[5,60],[6,56],[7,53],[8,50],[9,0],[30,0]] },
  { m: 65, p: [[1,61],[2,78],[3,78],[4,68],[5,61],[6,57],[7,54],[8,0],[30,0]] },
  { m: 70, p: [[1,62],[2,83],[3,80],[4,70],[5,62],[6,58],[7,0],[30,0]] },
  { m: 76, p: [[1,64],[2,89],[3,84],[4,72],[5,64],[6,0],[30,0]] },
  { m: 82, p: [[1,65],[2,97],[3,88],[4,74],[5,0],[30,0]] },
  { m: 88, p: [[1,67],[2,108],[3,92],[4,0],[30,0]] },
  { m: 94, p: [[1,68],[2,125],[3,0],[30,0]] },
  { m: 100, p: [[1,69],[2,144],[3,0],[30,0]] },
];

const snookR: S[] = [
  { m: 2, p: [[1,3.1],[2,2.3],[3,1.9],[5,1.8],[8,2.0],[12,2.3],[18,2.8],[24,3.1],[30,3.3]] },
  { m: 4, p: [[1,6.2],[2,4.6],[3,3.8],[5,3.6],[8,3.9],[12,4.6],[18,5.5],[24,6.2],[30,6.5]] },
  { m: 6, p: [[1,9.3],[2,6.9],[3,5.7],[5,5.4],[8,5.9],[12,7.0],[18,8.3],[24,9.3],[30,9.8]] },
  { m: 8, p: [[1,12.4],[2,9.2],[3,7.6],[5,7.2],[8,7.8],[12,9.3],[18,11],[24,12.4],[30,13]] },
  { m: 10, p: [[1,15.5],[2,11.5],[3,9.5],[5,9],[8,9.8],[12,11.6],[18,13.8],[24,15.5],[30,16.3]] },
  { m: 12, p: [[1,18.6],[2,13.8],[3,11.4],[5,10.8],[8,11.8],[12,13.9],[18,16.6],[24,18.6],[30,19.6]] },
  { m: 14, p: [[1,21.7],[2,16.1],[3,13.3],[5,12.6],[8,13.7],[12,16.2],[18,19.3],[24,21.7],[30,22.8]] },
  { m: 16, p: [[1,24.8],[2,18.4],[3,15.2],[5,14.4],[8,15.7],[12,18.6],[18,22.1],[24,24.8],[30,26.1]] },
  { m: 18, p: [[1,27.9],[2,20.7],[3,17.1],[5,16.2],[8,17.6],[12,20.9],[18,24.8],[24,27.9],[30,29.3]] },
  { m: 20, p: [[1,31],[2,23],[3,19],[5,18],[8,19.6],[12,23.2],[18,27.6],[24,31],[30,32.6]] },
  { m: 22, p: [[1,34.1],[2,25.3],[3,20.9],[5,19.8],[8,21.6],[12,25.5],[18,30.4],[24,34.1],[30,35.9]] },
  { m: 24, p: [[1,37.2],[2,27.6],[3,22.8],[5,21.6],[8,23.5],[12,27.8],[18,33.1],[24,37.2],[30,39.1]] },
  { m: 26, p: [[1,40.3],[2,29.9],[3,24.7],[5,23.4],[8,25.5],[12,30.2],[18,35.9],[24,40.3],[30,42.4]] },
  { m: 28, p: [[1,43.4],[2,32.2],[3,26.6],[5,25.2],[8,27.4],[12,32.5],[18,38.6],[24,43.4],[30,45.6]] },
  { m: 30, p: [[1,46.5],[2,34.5],[3,28.5],[5,27],[8,29.4],[12,34.8],[18,41.4],[24,46.5],[30,48.9]] },
  { m: 32, p: [[1,49.6],[2,36.8],[3,30.4],[5,28.8],[8,31.4],[12,37.1],[18,44.2],[24,49.6],[30,52.2]] },
  { m: 34, p: [[1,52.7],[2,39.1],[3,32.3],[5,30.6],[8,33.3],[12,39.4],[18,46.9],[24,52.7],[30,55.4]] },
  { m: 36, p: [[1,55.8],[2,41.4],[3,34.2],[5,32.4],[8,35.3],[12,41.8],[18,49.7],[24,55.8],[30,58.7]] },
  { m: 38, p: [[1,58.9],[2,50],[3,44],[4,41],[5,40],[6,40.5],[8,42],[10,46],[14,53],[18,58],[21,61],[25,62],[30,62.5]] },
  { m: 39, p: [[1,60],[2,35],[3,22],[4,16],[5,14],[6,16],[7,21],[8,28],[9,36],[10,44],[12,54],[15,60],[20,62],[30,62]] },
  { m: 40, p: [[1,62],[2,35],[3,20],[4,13],[5,11],[6,11],[7,13],[8,17],[9,23],[10,30],[11,38],[12,45],[14,55],[17,60],[22,62],[30,62]] },
  { m: 41, p: [[1,63],[2,34],[3,18],[4,11],[6,8],[8,10],[9,13],[10,18],[11,24],[12,31],[13,39],[14,46],[16,55],[19,60],[24,62],[30,62]] },
  { m: 42, p: [[1,65],[2,33],[3,16],[4,9],[6,6],[9,7],[11,10],[12,13],[13,18],[14,24],[15,31],[16,39],[17,46],[19,55],[22,60],[27,62],[30,62]] },
  { m: 44, p: [[1,68],[2,32],[3,14],[4,8],[7,5],[11,5],[14,8],[15,11],[16,15],[17,21],[18,28],[19,36],[20,43],[22,53],[25,59],[30,62]] },
  { m: 45, p: [[1,70],[2,31],[3,13],[5,6],[10,4],[15,5],[17,8],[18,11],[19,15],[20,21],[21,28],[22,35],[23,42],[25,52],[27,57],[30,61]] },
  { m: 46, p: [[1,71],[2,30],[3,12],[5,5],[12,3],[18,4],[20,6],[21,8],[22,11],[23,15],[24,21],[25,28],[26,35],[27,42],[28,48],[30,56]] },
  { m: 47, p: [[1,73],[2,29],[3,11],[5,4],[15,3],[22,4],[24,6],[25,8],[26,11],[27,15],[28,20],[29,26],[30,33]] },
  { m: 48, p: [[1,74],[2,28],[3,10],[5,3],[20,3],[25,4],[27,6],[28,7],[29,9],[30,12]] },
  { m: 49, p: [[1,76],[2,27],[3,9],[5,3],[30,4]] },
  { m: 52, p: [[1,80],[2,62],[3,50],[4,38],[5,26],[6,14],[7,6],[8,1],[9,0],[30,0]] },
  { m: 54, p: [[1,84],[2,80],[3,64],[4,48],[5,30],[6,12],[7,2],[8,0],[30,0]] },
  { m: 57, p: [[1,89],[2,82],[3,55],[4,22],[5,2],[6,0],[30,0]] },
  { m: 62, p: [[1,96],[2,70],[3,18],[4,0],[30,0]] },
  { m: 68, p: [[1,105],[2,50],[3,0],[30,0]] },
  { m: 75, p: [[1,116],[2,35],[3,0],[30,0]] },
  { m: 82, p: [[1,127],[2,15],[3,0],[30,0]] },
  { m: 90, p: [[1,140],[2,0],[30,0]] },
  { m: 100, p: [[1,155],[2,0],[30,0]] },
];

const panels: S[][][] = [
  [bayB, catB, snookB],
  [bayE, catE, snookE],
  [bayR, catR, snookR],
];

// ---------- styling ----------
const PAL = ['#3288BD', '#99D594', '#E6F598', '#FFFFBF', '#FEE08B', '#FC8D59', '#D53E4F'];
function hex(c: string) { return [1, 3, 5].map(i => parseInt(c.slice(i, i + 2), 16)); }
function colour(m: number) {
  const t = Math.min(1, Math.max(0, (m - 1) / 99)) * (PAL.length - 1);
  const i = Math.min(PAL.length - 2, Math.floor(t));
  const f = t - i;
  const a = hex(PAL[i]); const b = hex(PAL[i + 1]);
  const c = a.map((v, k) => Math.round(v + (b[k] - v) * f));
  return `rgb(${c[0]},${c[1]},${c[2]})`;
}

const COLX = [51, 382, 713];
const PW = 315;
const ROWY = [101.5, 258.5, 415];
const PH = [140, 140, 141.5];
const XDOM: [number, number] = [-1.45, 31.45];
const YDOM: [number, number][] = [[-0.085, 2.09], [-0.05, 1.05], [-10.5, 210]];
const YTICKS = [bTicks, eTicks, rTicks];
const YFMT = [(v: number) => v.toFixed(1), (v: number) => v.toFixed(2), (v: number) => String(v)];
const YAW = 51;
const XAH = 40;
const PAD = 10;

function makeYTick(r: number) {
  return (props: any) => (
    <text x={props.x} y={props.y} dy="0.36em" textAnchor="end" fontSize={14} fill="#4d4d4d" fontFamily={FONT}>
      {YFMT[r](props.payload.value)}
    </text>
  );
}
function xTick(props: any) {
  return (
    <text x={props.x} y={props.y} dy="0.71em" textAnchor="middle" fontSize={14} fill="#4d4d4d" fontFamily={FONT}>
      {String(props.payload.value)}
    </text>
  );
}

function Panel({ r, c }: { r: number; c: number }) {
  const showY = c === 0;
  const showX = r === 2;
  const mt = PAD;
  const mb = showX ? 0 : PAD;
  const w = PW + (showY ? YAW : 0);
  const h = PH[r] + (showX ? XAH : 0) + mt + mb;
  const series = panels[r][c];
  return (
    <div style={{ position: 'absolute', left: COLX[c] - (showY ? YAW : 0), top: ROWY[r] - mt, width: w, height: h }}>
      <LineChart width={w} height={h} margin={{ top: mt, right: 0, bottom: mb, left: 0 }}>
        <XAxis
          type="number" dataKey="x" domain={XDOM} ticks={yearTicks} allowDataOverflow
          hide={!showX} height={XAH} interval={0}
          axisLine={{ stroke: '#000', strokeWidth: 2.4 }}
          tickLine={{ stroke: '#222', strokeWidth: 2 }} tickSize={7} tickMargin={7}
          tick={xTick}
        />
        <YAxis
          type="number" domain={YDOM[r]} ticks={YTICKS[r]} allowDataOverflow
          hide={!showY} width={YAW} interval={0}
          axisLine={{ stroke: '#000', strokeWidth: 2.4 }}
          tickLine={{ stroke: '#222', strokeWidth: 2 }} tickSize={7} tickMargin={5}
          tick={makeYTick(r)}
        />
        {series.map((s, i) => (
          <Line
            key={`${r}-${c}-${i}`}
            data={s.p.map(([x, y]) => ({ x, y }))}
            dataKey="y" type="linear" stroke={colour(s.m)} strokeWidth={1.15}
            dot={false} activeDot={false} isAnimationActive={false}
          />
        ))}
        {r === 0 && (
          <ReferenceLine y={bmsyRef} stroke="#000" strokeWidth={1.5} strokeDasharray="9 6" />
        )}
      </LineChart>
    </div>
  );
}

function Chrome() {
  const stripTop = 46;
  const stripH = 54;
  const rsX = 1029.5;
  const rsW = 54;
  const barX = 1128; const barW = 22; const barTop = 276; const barBot = 398;
  const tickY = (v: number) => 372.7 - (v - 25) * 1.156;
  return (
    <svg width={1211} height={606} style={{ position: 'absolute', left: 0, top: 0, pointerEvents: 'none' }} fontFamily={FONT}>
      <defs>
        <linearGradient id="msyGrad" x1="0" y1="1" x2="0" y2="0">
          {PAL.map((col, i) => (
            <stop key={i} offset={i / (PAL.length - 1)} stopColor={col} />
          ))}
        </linearGradient>
      </defs>
      <text x={51} y={26.5} fontSize={18} fill="#000">{title}</text>
      {speciesLabels.map((lines, c) => (
        <g key={`s${c}`}>
          <rect x={COLX[c]} y={stripTop} width={PW} height={stripH} fill="#d9d9d9" stroke="#333" strokeWidth={1.2} />
          {lines.map((t, i) => (
            <text key={i} x={COLX[c] + PW / 2} y={stripTop + stripH / 2 + 5.5 + (i - (lines.length - 1) / 2) * 16.5}
              textAnchor="middle" fontSize={15.5} fill="#1a1a1a">{t}</text>
          ))}
        </g>
      ))}
      {rowLabels.map((lines, r) => {
        const cy = ROWY[r] + PH[r] / 2;
        return (
          <g key={`r${r}`}>
            <rect x={rsX} y={ROWY[r]} width={rsW} height={PH[r]} fill="#d9d9d9" stroke="#333" strokeWidth={1.2} />
            {lines.map((t, i) => {
              const cx = rsX + rsW / 2 - 1 - 5.5 - (i - (lines.length - 1) / 2) * 18;
              return (
                <text key={i} x={cx} y={cy} transform={`rotate(90 ${cx} ${cy})`} textAnchor="middle"
                  fontSize={15.5} fill="#1a1a1a">{t}</text>
              );
            })}
          </g>
        );
      })}
      {ROWY.map((y, r) => COLX.map((x, c) => (
        <rect key={`b${r}${c}`} x={x} y={y} width={PW} height={PH[r]} fill="none" stroke="#333" strokeWidth={1.2} />
      )))}
      {ROWY.map((y, r) => (
        <line key={`la${r}`} x1={51} y1={y} x2={51} y2={y + PH[r]} stroke="#000" strokeWidth={2.4} />
      ))}
      {COLX.map((x, c) => (
        <line key={`ba${c}`} x1={x} y1={ROWY[2] + PH[2]} x2={x + PW} y2={ROWY[2] + PH[2]} stroke="#000" strokeWidth={2.4} />
      ))}
      <text x={COLX[1] + PW / 2} y={601.5} textAnchor="middle" fontSize={17} fill="#000">{xTitle}</text>
      <text x={1127} y={273} fontSize={18} fill="#000">{legendTitle}</text>
      <rect x={barX} y={barTop} width={barW} height={barBot - barTop} fill="url(#msyGrad)" stroke="#333" strokeWidth={1} />
      {legendTicks.map(v => (
        <g key={`lt${v}`}>
          <line x1={barX} x2={barX + 4.5} y1={tickY(v)} y2={tickY(v)} stroke="#555" strokeWidth={1} />
          <line x1={barX + barW - 4.5} x2={barX + barW} y1={tickY(v)} y2={tickY(v)} stroke="#555" strokeWidth={1} />
          <text x={1160} y={tickY(v)} dy="0.36em" fontSize={14.5} fill="#1a1a1a">{v}</text>
        </g>
      ))}
    </svg>
  );
}

export default function App() {
  return (
    <div style={{ position: 'absolute', left: 0, top: 0, width: 1211, height: 606, background: '#fff', overflow: 'hidden' }}>
      {[0, 1, 2].map(r => [0, 1, 2].map(c => <Panel key={`p${r}${c}`} r={r} c={c} />))}
      <Chrome />
    </div>
  );
}
